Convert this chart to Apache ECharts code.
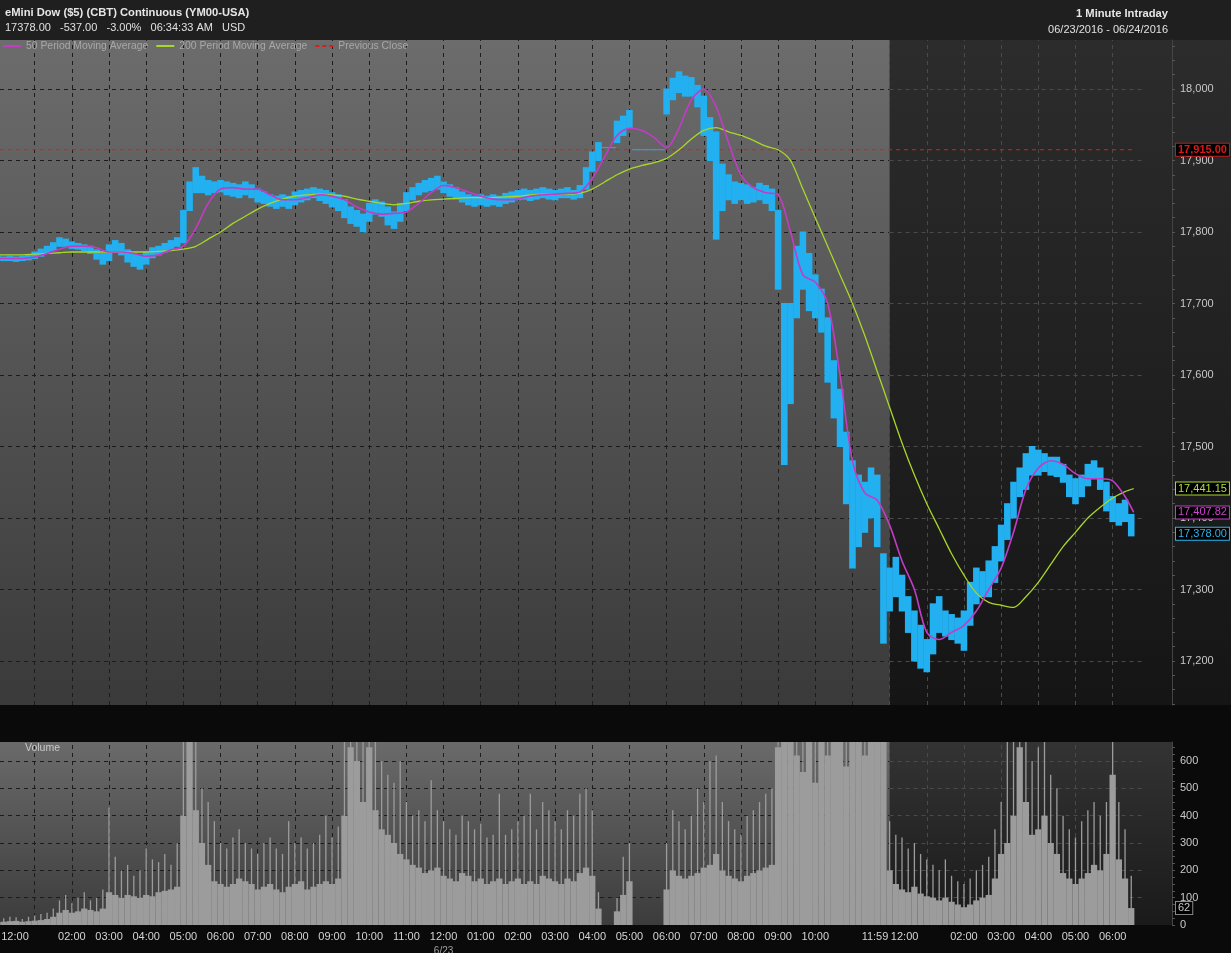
<!DOCTYPE html>
<html><head><meta charset="utf-8">
<script src="https://cdn.jsdelivr.net/npm/echarts@6/dist/echarts.min.js"></script>
<style>html,body{margin:0;padding:0;background:#0a0a0a;}#c{width:1231px;height:953px;}</style>
</head><body><div id="c"></div>
<script>
// ---------- DATA ----------
const barStep = 10;            // minutes per price / volume bar
const startMin = 4, endMin = 1849, sessionBreak = 1440, lastMinute = 1834;
const prevClose = 17915, lastPrice = 17378.00, lastVolume = 62;

const priceHigh = [17766,17765,17766,17765,17766,17768,17772,17776,17780,17785,
 17792,17790,17786,17784,17782,17780,17775,17770,17782,17788,
 17784,17775,17770,17768,17772,17778,17780,17784,17788,17792,
 17830,17870,17890,17878,17872,17870,17872,17870,17868,17866,
 17870,17866,17860,17856,17852,17850,17852,17850,17856,17858,
 17860,17862,17860,17858,17855,17852,17845,17835,17830,17825,
 17840,17845,17842,17835,17828,17840,17855,17862,17868,17872,
 17875,17878,17870,17866,17862,17856,17852,17850,17852,17850,
 17852,17850,17854,17856,17858,17860,17858,17860,17862,17860,
 17858,17860,17862,17858,17865,17890,17912,17925,null,null,
 17955,17962,17970,null,null,null,null,null,18000,18015,
 18024,18018,18016,18005,17990,17960,17940,17895,17880,17870,
 17868,17866,17862,17868,17865,17860,17830,17700,17700,17780,
 17800,17770,17740,17720,17680,17620,17580,17520,17480,17460,
 17450,17470,17460,17350,17330,17345,17320,17290,17270,17250,
 17230,17280,17290,17270,17265,17260,17270,17310,17330,17325,
 17340,17360,17390,17420,17450,17470,17490,17500,17495,17490,
 17485,17485,17475,17460,17455,17460,17475,17480,17470,17450,
 17430,17420,17425,17405];
const priceLow = [17760,17760,17760,17759,17760,17761,17763,17766,17770,17774,
 17780,17780,17777,17776,17774,17770,17762,17755,17760,17772,
 17768,17758,17752,17748,17755,17764,17768,17772,17775,17780,
 17785,17830,17855,17855,17852,17855,17856,17852,17850,17848,
 17852,17848,17842,17840,17836,17833,17836,17833,17838,17842,
 17845,17848,17844,17840,17835,17830,17820,17812,17808,17800,
 17815,17825,17822,17810,17805,17815,17830,17845,17852,17856,
 17858,17860,17855,17850,17846,17842,17838,17836,17838,17836,
 17838,17836,17840,17842,17845,17846,17844,17846,17848,17846,
 17845,17848,17848,17846,17848,17860,17885,17900,null,null,
 17925,17935,17945,null,null,null,null,null,17965,17985,
 17995,17990,17990,17975,17935,17900,17790,17830,17845,17840,
 17845,17840,17842,17845,17840,17830,17720,17475,17560,17680,
 17720,17690,17680,17660,17590,17540,17500,17420,17330,17360,
 17380,17400,17360,17225,17270,17290,17270,17240,17200,17190,
 17185,17210,17240,17235,17230,17225,17215,17250,17280,17290,
 17290,17310,17340,17370,17400,17430,17440,17460,17460,17465,
 17460,17458,17450,17430,17420,17430,17445,17455,17440,17410,
 17395,17390,17395,17375];
// flat price segments drawn during the two trading halts
const haltLine = [[975,17918],[998,17918],null,[1024,17915],[1078,17915]];

// typical 1-minute volume level in each 10-minute slot
const volume = [10,12,14,15,12,14,16,18,22,30,
 45,55,45,50,60,55,50,60,120,110,
 100,110,105,100,110,105,120,125,130,140,
 400,700,420,300,220,160,150,140,150,170,
 160,150,130,140,150,130,120,140,150,160,
 130,140,150,160,150,170,400,650,600,450,
 650,420,350,330,300,260,240,220,210,190,
 200,210,180,170,160,190,180,160,170,150,
 160,170,150,160,170,150,160,150,180,170,
 160,150,170,160,190,210,180,60,0,0,
 50,110,160,0,0,0,0,0,130,200,
 180,170,180,190,210,220,260,200,180,170,
 160,180,190,200,210,220,650,700,700,620,
 560,700,520,700,620,700,700,580,700,700,
 620,700,700,700,200,150,130,120,140,115,
 105,100,90,100,85,75,65,75,90,100,
 110,170,260,300,400,650,450,330,350,400,
 300,260,190,170,150,170,190,220,200,260,
 550,240,170,62];
// largest 1-minute volume spike in each 10-minute slot
const volumePeak = [20,25,30,28,22,30,35,40,45,60,
 90,110,80,100,120,90,100,130,430,250,
 200,220,180,200,280,240,230,260,220,300,
 700,700,700,500,450,380,300,280,320,350,
 300,280,260,300,320,280,260,380,300,320,
 280,300,330,400,320,360,700,700,700,700,
 700,700,600,550,520,600,450,400,420,380,
 530,420,380,350,330,400,380,350,370,320,
 330,480,330,350,380,400,480,350,450,420,
 380,350,420,400,480,500,420,120,0,0,
 100,250,300,0,0,0,0,0,300,420,
 380,350,400,500,450,600,620,450,380,350,
 330,400,420,450,480,500,700,700,700,700,
 700,700,700,700,700,700,700,700,700,700,
 700,700,700,700,380,330,320,280,300,260,
 240,220,200,240,180,160,150,170,200,220,
 250,350,450,700,700,700,700,600,650,700,
 550,500,400,350,320,380,420,450,400,450,
 700,450,350,180];

const maStep = 20;  // minutes between moving-average samples (last sample at lastMinute)
const ma50 = [17763,17763,17763,17765,17770,17776,17780,17780,17778,17772,
 17772,17770,17766,17768,17775,17780,17805,17840,17860,17862,
 17860,17860,17852,17845,17845,17848,17852,17850,17845,17835,
 17828,17825,17826,17828,17840,17855,17865,17862,17856,17850,
 17846,17845,17846,17850,17852,17853,17854,17856,17875,17905,
 17935,17945,17942,17932,17918,17945,17985,18000,17975,17925,
 17880,17862,17855,17852,17800,17740,17730,17700,17600,17480,
 17435,17425,17390,17340,17300,17240,17230,17240,17250,17270,
 17300,17330,17380,17440,17470,17480,17475,17462,17455,17455,
 17452,17430,17407.82];
const ma200 = [17768,17768,17768,17769,17770,17771,17772,17772,17772,17772,
 17772,17772,17772,17773,17774,17776,17780,17790,17800,17812,
 17822,17832,17840,17846,17850,17852,17853,17852,17850,17846,
 17843,17840,17838,17840,17843,17845,17846,17847,17848,17848,
 17848,17849,17850,17852,17853,17853,17853,17854,17860,17870,
 17880,17888,17893,17897,17903,17915,17930,17942,17946,17940,
 17935,17928,17920,17915,17900,17860,17820,17780,17740,17700,
 17655,17605,17555,17505,17460,17420,17385,17350,17320,17295,
 17282,17278,17275,17290,17310,17335,17360,17380,17400,17415,
 17428,17437,17441.15];

const priceTicks = [17200,17300,17400,17500,17600,17700,17800,17900,18000];
const volTicks = [0,100,200,300,400,500,600];
const timeLabels = [[4,'12:00','r'],[120,'02:00'],[180,'03:00'],[240,'04:00'],[300,'05:00'],[360,'06:00'],
 [420,'07:00'],[480,'08:00'],[540,'09:00'],[600,'10:00'],[660,'11:00'],[720,'12:00','d'],[780,'01:00'],
 [840,'02:00'],[900,'03:00'],[960,'04:00'],[1020,'05:00'],[1080,'06:00'],[1140,'07:00'],[1200,'08:00'],
 [1260,'09:00'],[1320,'10:00'],[1439,'11:59','l'],[1440,'12:00','r'],[1560,'02:00'],[1620,'03:00'],
 [1680,'04:00'],[1740,'05:00'],[1800,'06:00']];
const dateLabel = '6/23';
const hourLines = [60,120,180,240,300,360,420,480,540,600,660,720,780,840,900,960,1020,1080,1140,1200,1260,1320,1380,1440,1500,1560,1620,1680,1740,1800];

// ---------- BUILD ----------
const FONT = 'Liberation Sans, Arial, sans-serif';
const pMin = 17138.5, pMax = 18068.5, vMax = 669.5;
function comma(v, d){ const s = v.toFixed(d).split('.'); s[0] = s[0].replace(/\B(?=(\d{3})+(?!\d))/g, ','); return s.join('.'); }
const bars = priceHigh.map((h,i)=> h==null ? null : [i*barStep, h, priceLow[i]]).filter(d=>d);
const volData = volume.map((v,i)=>[i*barStep, v]);
const peakData = volumePeak.map((v,i)=>[i*barStep, v]);
const maX = i => Math.min(i*maStep, lastMinute);
const ma50Data = ma50.map((v,i)=>[maX(i), v]);
const ma200Data = ma200.map((v,i)=>[maX(i), v]);
const labelMap = {}; timeLabels.forEach(t=>labelMap[t[0]] = t);

const darkGrid = '#1c1c1c', lightGrid = '#4a4a4a';
function gridLines(ticks, yLo, yHi){
  const out = [];
  ticks.forEach(v=>{
    out.push([{coord:[startMin,v], lineStyle:{color:darkGrid}},{coord:[sessionBreak,v]}]);
    out.push([{coord:[sessionBreak,v], lineStyle:{color:lightGrid}},{coord:[endMin,v]}]);
  });
  hourLines.forEach(h=>{
    out.push([{coord:[h,yLo], lineStyle:{color: h < sessionBreak ? darkGrid : lightGrid}},{coord:[h,yHi]}]);
  });
  return out;
}
const grayGrad = (a,b)=>({type:'linear',x:0,y:0,x2:0,y2:1,colorStops:[{offset:0,color:a},{offset:1,color:b}]});
function endLabel(text, color, border, bold){
  return {show:true, position:'end', distance:33, formatter:()=>text, color:color, fontSize:11, fontWeight: bold ? 'bold' : 'normal',
    fontFamily:FONT, backgroundColor:'#000', borderColor:border, borderWidth:1, padding:[1,2,0,2]};
}
const hidden = {color:'rgba(0,0,0,0)', width:1};

const chart = echarts.init(document.getElementById('c'), null, {renderer:'canvas'});
chart.setOption({
  animation:false,
  backgroundColor:'#0a0a0a',
  textStyle:{fontFamily:FONT},
  graphic:[
    {type:'rect', z:-10, shape:{x:0,y:0,width:1231,height:40}, style:{fill:'#1f1f1f'}},
    {type:'rect', z:-10, shape:{x:0,y:40,width:1231,height:665}, style:{fill:grayGrad('#2c2c2c','#151515')}},
    {type:'rect', z:-10, shape:{x:0,y:742,width:1172,height:183}, style:{fill:grayGrad('#333333','#1a1a1a')}},
    {type:'text', z:10, x:1168, y:8, style:{text:'1 Minute Intraday', align:'right', verticalAlign:'top', fill:'#e6e6e6', font:'bold 11.2px ' + FONT}},
    {type:'text', z:10, x:1168, y:24, style:{text:'06/23/2016 - 06/24/2016', align:'right', verticalAlign:'top', fill:'#e0e0e0', font:'11px ' + FONT}}
  ],
  title:[
    {text:'eMini Dow ($5) (CBT) Continuous (YM00-USA)', left:5, top:7, padding:0, itemGap:4,
     textStyle:{color:'#e6e6e6', fontSize:11.2, fontWeight:'bold', fontFamily:FONT},
     subtext:'17378.00   -537.00   -3.00%   06:34:33 AM   USD', subtextStyle:{color:'#e0e0e0', fontSize:11, fontFamily:FONT}},
    {text:'Volume', left:25, top:743, padding:0, textStyle:{color:'#c8c8c8', fontSize:10.5, fontWeight:'normal', fontFamily:FONT}}
  ],
  legend:{left:3, top:41, padding:0, itemWidth:18, itemHeight:2, itemGap:8,
    data:[{name:'50 Period Moving Average', icon:'rect'},{name:'200 Period Moving Average', icon:'rect'},
          {name:'Previous Close', icon:'path://M0,0H4V2H0Z M7,0H11V2H7Z M14,0H18V2H14Z'}],
    textStyle:{color:'#a8a8a8', fontSize:10.4, fontFamily:FONT}},
  grid:[
    {left:0, top:40, width:1143, height:665, outerBoundsMode:'none', containLabel:false},
    {left:0, top:742, width:1143, height:183, outerBoundsMode:'none', containLabel:false}
  ],
  xAxis:[
    {type:'value', gridIndex:0, min:startMin, max:endMin, axisLine:{show:false}, axisTick:{show:false}, axisLabel:{show:false}, splitLine:{show:false}},
    {type:'value', gridIndex:1, min:startMin, max:endMin, axisLine:{show:false}, axisTick:{show:false}, splitLine:{show:false},
     axisLabel:{show:true, customValues:timeLabels.map(t=>t[0]), color:'#d4d4d4', fontSize:11, margin:6, fontFamily:FONT,
       formatter:v=>{ const t = labelMap[v]; if(!t) return ''; if(t[2]==='r') return '{r|'+t[1]+'}'; if(t[2]==='l') return '{l|'+t[1]+'}'; if(t[2]==='d') return t[1]+'\n{d|'+dateLabel+'}'; return t[1]; },
       rich:{r:{padding:[0,0,0,30], fontSize:11, color:'#d4d4d4'}, l:{padding:[0,28,0,0], fontSize:11, color:'#d4d4d4'}, d:{fontSize:10, color:'#a0a0a0', padding:[4,0,0,0]}}}}
  ],
  yAxis:[
    {type:'value', gridIndex:0, position:'right', offset:29, min:pMin, max:pMax,
     axisLine:{show:true, lineStyle:{color:'#444'}}, splitLine:{show:false},
     axisTick:{show:true, length:3, lineStyle:{color:'#555'}, customValues:Array.from({length:47},(_, i)=>17140+i*20)},
     axisLabel:{customValues:priceTicks, color:'#c8c8c8', fontSize:11, margin:8, formatter:v=>comma(v,0), fontFamily:FONT}},
    {type:'value', gridIndex:1, position:'right', offset:29, min:0, max:vMax,
     axisLine:{show:true, lineStyle:{color:'#444'}}, splitLine:{show:false},
     axisTick:{show:true, length:3, lineStyle:{color:'#555'}, customValues:Array.from({length:27},(_, i)=>i*25)},
     axisLabel:{customValues:volTicks, color:'#c8c8c8', fontSize:11, margin:8, fontFamily:FONT}}
  ],
  series:[
    {name:'bgMain', type:'line', xAxisIndex:0, yAxisIndex:0, data:[], z:1, silent:true,
     markArea:{silent:true, z:0, itemStyle:{color:grayGrad('#6c6c6c','#3a3a3a')}, data:[[{xAxis:startMin},{xAxis:sessionBreak}]]},
     markLine:{silent:true, z:1, symbol:['none','none'], label:{show:false}, lineStyle:{type:[4,4], width:1}, data:gridLines(priceTicks,pMin,pMax)}},
    {name:'Previous Close', type:'line', xAxisIndex:0, yAxisIndex:0, z:3, showSymbol:false, symbol:'none',
     lineStyle:{color:'#d42020', width:1, type:[4,4]}, itemStyle:{color:'#d42020'},
     data:[[startMin,prevClose],[lastMinute,prevClose]],
     markLine:{silent:true, z:10, symbol:['none','none'], lineStyle:hidden, data:[{yAxis:prevClose}],
       label:endLabel(comma(prevClose,2), '#e01818', '#c01818', true)}},
    {name:'price', type:'custom', xAxisIndex:0, yAxisIndex:0, z:4, encode:{x:0, y:[1,2]}, data:bars,
     renderItem:(params, api)=>{ const a = api.coord([api.value(0), api.value(1)]), b = api.coord([api.value(0), api.value(2)]);
       const w = api.size([barStep,0])[0] + 0.4;
       return {type:'rect', shape:{x:a[0]-w/2, y:a[1]-0.5, width:w, height:b[1]-a[1]+1}, style:{fill:'#22b0f0'}}; },
     markLine:{silent:true, z:10, symbol:['none','none'], lineStyle:hidden, data:[{yAxis:lastPrice}],
       label:endLabel(comma(lastPrice,2), '#2ab4f0', '#2ab4f0')}},
    {name:'halt', type:'line', xAxisIndex:0, yAxisIndex:0, z:4, showSymbol:false, symbol:'none', connectNulls:false,
     lineStyle:{color:'#22b0f0', width:1}, data:haltLine},
    {name:'200 Period Moving Average', type:'line', xAxisIndex:0, yAxisIndex:0, z:5, showSymbol:false, symbol:'none', smooth:0.3,
     lineStyle:{color:'#a8d62a', width:1.3}, itemStyle:{color:'#a8d62a'}, data:ma200Data,
     markLine:{silent:true, z:10, symbol:['none','none'], lineStyle:hidden, data:[{yAxis:ma200[ma200.length-1]}],
       label:endLabel(comma(ma200[ma200.length-1],2), '#b4e03a', '#a8d62a')}},
    {name:'50 Period Moving Average', type:'line', xAxisIndex:0, yAxisIndex:0, z:5, showSymbol:false, symbol:'none', smooth:0.3,
     lineStyle:{color:'#c23cc6', width:1.6}, itemStyle:{color:'#c23cc6'}, data:ma50Data,
     markLine:{silent:true, z:10, symbol:['none','none'], lineStyle:hidden, data:[{yAxis:ma50[ma50.length-1]}],
       label:endLabel(comma(ma50[ma50.length-1],2), '#d040d0', '#c23cc6')}},
    {name:'bgVol', type:'line', xAxisIndex:1, yAxisIndex:1, data:[], z:1, silent:true,
     markArea:{silent:true, z:0, itemStyle:{color:grayGrad('#6a6a6a','#3c3c3c')}, data:[[{xAxis:startMin},{xAxis:sessionBreak}]]},
     markLine:{silent:true, z:1, symbol:['none','none'], label:{show:false}, lineStyle:{type:[4,4], width:1}, data:gridLines(volTicks.slice(1),0,vMax)}},
    {name:'volume', type:'bar', xAxisIndex:1, yAxisIndex:1, z:3, barWidth:6.3, itemStyle:{color:'#9c9c9c'}, data:volData,
     markLine:{silent:true, z:10, symbol:['none','none'], lineStyle:hidden, data:[{yAxis:lastVolume}],
       label:endLabel(String(lastVolume), '#c8c8c8', '#8a8a8a')}},
    {name:'volumePeak', type:'custom', xAxisIndex:1, yAxisIndex:1, z:3, clip:true, encode:{x:0, y:1}, data:peakData,
     renderItem:(params, api)=>{ const a = api.coord([api.value(0), 0]), b = api.coord([api.value(0), Math.min(api.value(1), vMax)]);
       return {type:'line', shape:{x1:a[0], y1:a[1], x2:b[0], y2:b[1]}, style:{stroke:'#9c9c9c', lineWidth:1.3}}; }}
  ]
});
</script></body></html>
